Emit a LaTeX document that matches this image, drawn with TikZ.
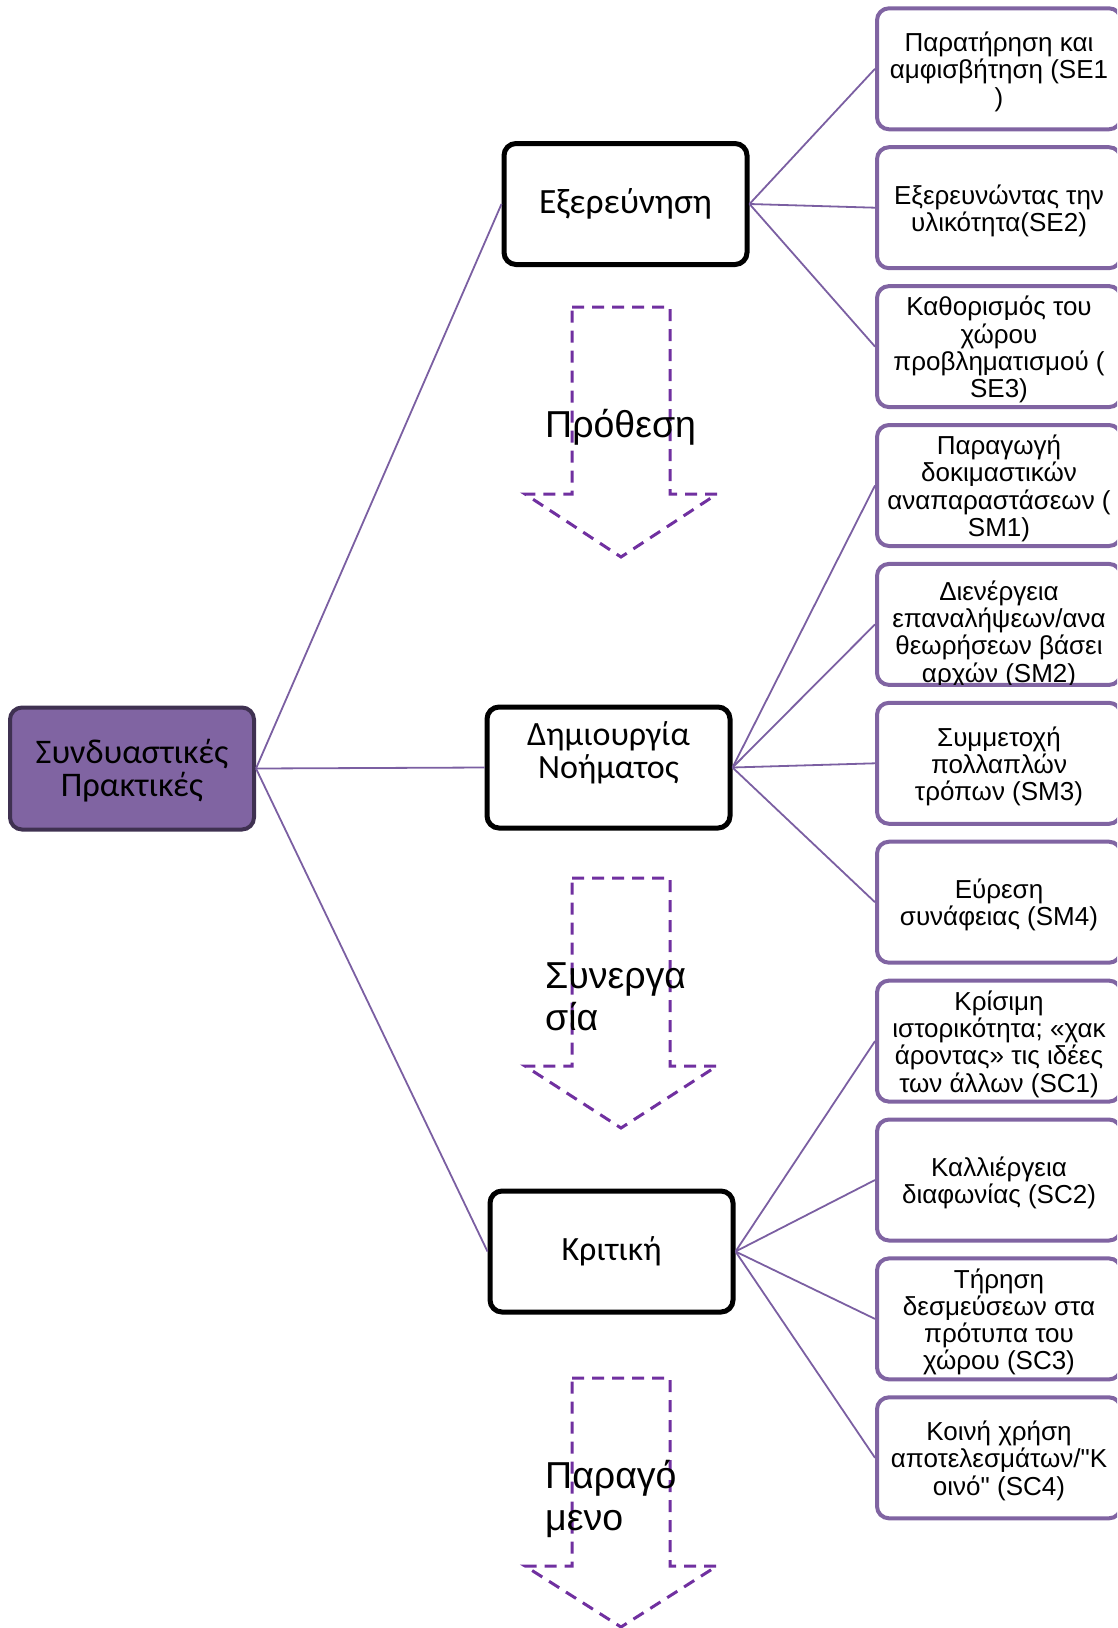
\documentclass[tikz,border=0pt]{standalone}
\usepackage{fontspec}
\setmainfont{Liberation Sans}
\newfontfamily\plainfont{Liberation Sans}
\newfontfamily\stagefont{Carlito}
\definecolor{rootfill}{HTML}{8064A2}
\definecolor{rootline}{HTML}{3F3151}
\definecolor{leafline}{HTML}{8064A2}
\definecolor{linkline}{HTML}{7B5FA2}
\definecolor{flowline}{HTML}{7030A0}
\begin{document}
\begin{tikzpicture}[x=1pt,y=-1pt,
  rootbox/.style={draw=rootline, fill=rootfill, line width=4pt, rounded corners=12pt,
    minimum width=244pt, minimum height=122pt, inner sep=0pt, align=center,
    font=\stagefont\fontsize{34.5}{33}\selectfont},
  stagebox/.style={draw=black, fill=white, line width=5pt, rounded corners=12pt,
    minimum width=243pt, minimum height=121pt, inner sep=0pt, align=center,
    font=\stagefont\fontsize{34}{32}\selectfont},
  leaf/.style={draw=leafline, fill=white, line width=4pt, rounded corners=12pt,
    minimum width=244pt, minimum height=121pt, inner sep=0pt},
  leaftext/.style={inner sep=0pt, align=center, font=\plainfont\fontsize{26}{27.3}\selectfont},
  link/.style={draw=linkline, line width=1.8pt},
  flowarrow/.style={draw=flowline, line width=3pt, dash pattern=on 12pt off 8pt},
  flowtext/.style={inner sep=0pt, anchor=base west, font=\fontsize{37.5}{42}\selectfont}
]
\useasboundingbox (0,0) rectangle (1117,1628);
\clip (0,0) rectangle (1117,1628);

% dashed flow arrows between the stages
\foreach \top/\bot/\tip in {307/494/557, 878/1066/1128, 1378/1566/1627}{
  \draw[flowarrow] (572,\top) -- (670,\top) -- (670,\bot) -- (717,\bot) -- (621,\tip)
    -- (525,\bot) -- (572,\bot) -- cycle;
}
\node[flowtext] (intent) at (545,437) {Πρόθεση};
\node[flowtext] (collab) at (545,988) {\begin{tabular}[t]{@{}l@{}}Συνεργα\\σία\end{tabular}};
\node[flowtext] (product) at (545,1488) {\begin{tabular}[t]{@{}l@{}}Παραγό\\μενο\end{tabular}};

% root and stage boxes
\node[rootbox] (root) at (132,768.5) {};
\node[inner sep=0pt, align=center, font=\stagefont\fontsize{34.5}{33}\selectfont] (rootlabel)
  at (132,770.5) {Συνδυαστικές\\Πρακτικές};
\node[stagebox, font=\stagefont\fontsize{35.5}{32}\selectfont] (explore) at (625.5,204) {Εξερεύνηση};
\node[stagebox] (meaning) at (608.5,767.5) {};
\node[inner sep=0pt, anchor=base, font=\stagefont\fontsize{34}{32}\selectfont] (meaninglabel)
  at (608.5,745) {\begin{tabular}[t]{@{}c@{}}Δημιουργία\\Νοήματος\end{tabular}};
\node[stagebox] (critique) at (611.5,1251.5) {Κριτική};

% leaf boxes, one row every 138.9 units
\foreach \name/\cy in {se1/68.8, se2/207.7, se3/346.6, sm1/485.5, sm2/624.4, sm3/763.3,
                       sm4/902.2, sc1/1041.1, sc2/1180.0, sc3/1318.9, sc4/1457.8}{
  \node[leaf] (\name) at (999,\cy) {};
}

% leaf texts
\node[leaftext] (se1label) at (999,71.8) {Παρατήρηση και\\αμφισβήτηση (SE1\\)};
\node[leaftext] (se2label) at (999,210.7) {Εξερευνώντας την\\υλικότητα(SE2)};
\node[leaftext] (se3label) at (999,349.6) {Καθορισμός του\\χώρου\\προβληματισμού (\\SE3)};
\node[leaftext] (sm1label) at (999,488.5) {Παραγωγή\\δοκιμαστικών\\αναπαραστάσεων (\\SM1)};
\begin{scope}
  \clip ([xshift=2pt,yshift=2pt]sm2.south west) rectangle ([xshift=-2pt,yshift=-2pt]sm2.north east);
  \node[leaftext] (sm2label) at (999,634)
    {Διενέργεια\\επαναλήψεων/ανα\\θεωρήσεων βάσει\\αρχών (SM2)};
\end{scope}
\node[leaftext] (sm3label) at (999,766.3) {Συμμετοχή\\πολλαπλών\\τρόπων (SM3)};
\node[leaftext] (sm4label) at (999,905.2) {Εύρεση\\συνάφειας (SM4)};
\node[leaftext] (sc1label) at (999,1044.1) {Κρίσιμη\\ιστορικότητα; «χακ\\άροντας» τις ιδέες\\των άλλων (SC1)};
\node[leaftext] (sc2label) at (999,1183.0) {Καλλιέργεια\\διαφωνίας (SC2)};
\node[leaftext] (sc3label) at (999,1321.9) {Τήρηση\\δεσμεύσεων στα\\πρότυπα του\\χώρου (SC3)};
\node[leaftext] (sc4label) at (999,1460.8) {Κοινή χρήση\\αποτελεσμάτων/"Κ\\οινό" (SC4)};

% connectors
\foreach \s in {explore,meaning,critique}{
  \draw[link] (root.east) -- (\s.west);
}
\foreach \s in {se1,se2,se3}{ \draw[link] (explore.east) -- (\s.west); }
\foreach \s in {sm1,sm2,sm3,sm4}{ \draw[link] (meaning.east) -- (\s.west); }
\foreach \s in {sc1,sc2,sc3,sc4}{ \draw[link] (critique.east) -- (\s.west); }
\end{tikzpicture}
\end{document}
